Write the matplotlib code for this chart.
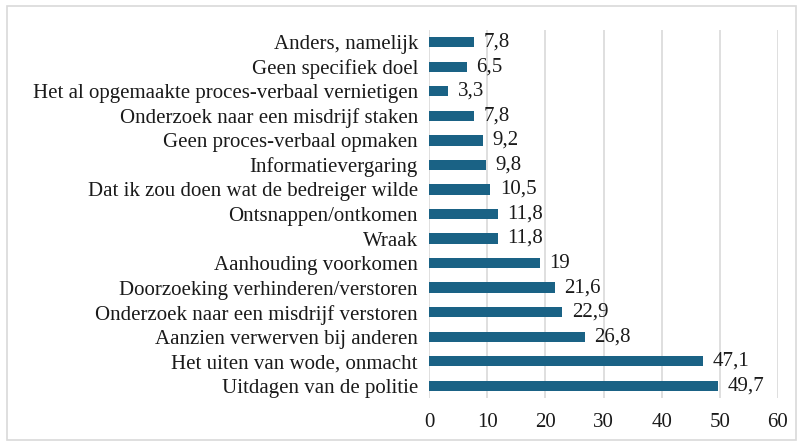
import matplotlib
matplotlib.use("Agg")
import matplotlib.pyplot as plt
from matplotlib.patches import Rectangle

categories = [
    "Uitdagen van de politie",
    "Het uiten van wode, onmacht",
    "Aanzien verwerven bij anderen",
    "Onderzoek naar een misdrijf verstoren",
    "Doorzoeking verhinderen/verstoren",
    "Aanhouding voorkomen",
    "Wraak",
    "Ontsnappen/ontkomen",
    "Dat ik zou doen wat de bedreiger wilde",
    "Informatievergaring",
    "Geen proces-verbaal opmaken",
    "Onderzoek naar een misdrijf staken",
    "Het al opgemaakte proces-verbaal vernietigen",
    "Geen specifiek doel",
    "Anders, namelijk",
]
values = [49.7, 47.1, 26.8, 22.9, 21.6, 19, 11.8, 11.8, 10.5, 9.8, 9.2, 7.8, 3.3, 6.5, 7.8]
value_labels = ["49,7", "47,1", "26,8", "22,9", "21,6", "19", "11,8", "11,8", "10,5",
                "9,8", "9,2", "7,8", "3,3", "6,5", "7,8"]
xticks = [0, 10, 20, 30, 40, 50, 60]

plt.rcParams['font.family'] = ['Liberation Serif', 'DejaVu Serif']

fig = plt.figure(figsize=(8, 4.44), dpi=100)
ax = fig.add_axes([429 / 800, 1 - 398 / 444, (778 - 429) / 800, (398 - 30) / 444])

pos = list(range(len(categories)))
ax.barh(pos, values, height=0.42, color="#1a6285", zorder=3)
for p, v, lab in zip(pos, values, value_labels):
    ax.annotate(lab, (v, p), xytext=(7, 0), textcoords="offset points",
                va="center", ha="left", fontsize=15, color="#1a1a1a")

ax.set_xlim(0, 60)
ax.set_ylim(-0.5, len(categories) - 0.5)
ax.set_xticks(xticks)
ax.set_yticks(pos)
ax.set_yticklabels(categories)
ax.tick_params(axis="both", length=0, labelsize=15, colors="#1a1a1a")
ax.tick_params(axis="x", pad=11)
ax.tick_params(axis="y", pad=8)
ax.grid(axis="x", color="#d9d9d9", linewidth=1.2, zorder=0)
for s in ax.spines.values():
    s.set_visible(False)

fig.patches.append(Rectangle((7 / 800, 4 / 444), 789 / 800, 434 / 444,
                             transform=fig.transFigure, fill=False,
                             edgecolor="#d9d9d9", linewidth=1.2))

fig.savefig("out.png", dpi=100)
